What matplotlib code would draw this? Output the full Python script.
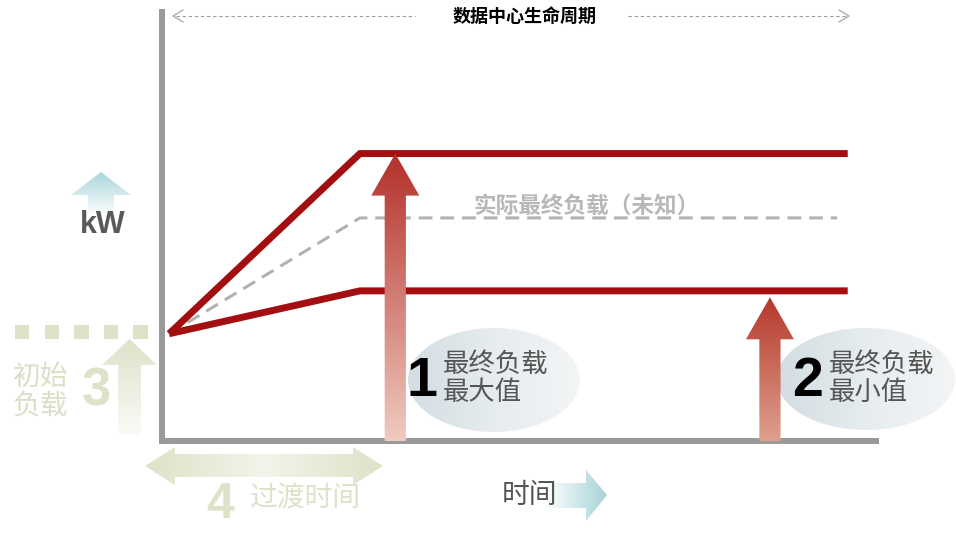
import numpy as np
import matplotlib
matplotlib.use("Agg")
import matplotlib.pyplot as plt
from matplotlib.patches import Polygon, Ellipse, Rectangle
from matplotlib.colors import LinearSegmentedColormap

plt.rcParams['font.family'] = ['Noto Sans CJK SC', 'DejaVu Sans']

# 负载曲线数据（时间单位任意，负载为相对值）
time_pts = [0, 2.7, 9.6]
max_load = [25, 67, 67]
min_load = [25, 35, 35]
actual_time = [0, 2.7, 9.45]
actual_load = [25, 52, 52]

# 两个标注箭头：位置与箭头顶端对应的负载
arrow_x = [3.2, 8.5]
arrow_tip = [max_load[-1], min_load[-1] - 1.5]
arrow_colors = [('#f0cbc0', '#b3302a'), ('#dfa08e', '#b5382b')]
arrow_nums = ['1', '2']
arrow_text = ['最终负载\n最大值', '最终负载\n最小值']

title = '数据中心生命周期'
actual_label = '实际最终负载（未知）'

RED = '#a30f10'
OLIVE = '#dfe1c9'


def gradient_fill(a, verts, extent, stops, horizontal=False, zorder=2):
    poly = Polygon(verts, closed=True, facecolor='none', edgecolor='none', zorder=zorder)
    a.add_patch(poly)
    cmap = LinearSegmentedColormap.from_list('g', stops)
    g = np.linspace(0, 1, 256)
    arr = g[np.newaxis, :] if horizontal else g[:, np.newaxis]
    im = a.imshow(arr, cmap=cmap, extent=extent, origin='lower', aspect='auto',
                  interpolation='bilinear', zorder=zorder)
    im.set_clip_path(poly)


fig = plt.figure(figsize=(9.56, 5.33), dpi=100)

# 装饰层，像素坐标
deco = fig.add_axes([0, 0, 1, 1])
deco.axis('off')

# 主图
ax = fig.add_axes([162 / 956, (533 - 441) / 533, (876 - 162) / 956, (441 - 12) / 533])
ax.patch.set_alpha(0)
for s in ['top', 'right']:
    ax.spines[s].set_visible(False)
for s in ['left', 'bottom']:
    ax.spines[s].set_linewidth(4.3)
    ax.spines[s].set_color('#999999')
    ax.spines[s].set_capstyle('projecting')
ax.set_xticks([])
ax.set_yticks([])

ax.plot(time_pts, max_load, color=RED, lw=5, solid_capstyle='butt', solid_joinstyle='miter', zorder=3)
ax.plot(time_pts, min_load, color=RED, lw=5, solid_capstyle='butt', solid_joinstyle='miter', zorder=3)
ax.plot(actual_time, actual_load, color='#b2b2b2', lw=2.2, dashes=(4.5, 2.6), zorder=2)

# 渐变箭头
sw, hw, hl = 0.15, 0.34, 9.8
for x, tip, (c0, c1) in zip(arrow_x, arrow_tip, arrow_colors):
    verts = [(x - sw, 0), (x - sw, tip - hl), (x - hw, tip - hl), (x, tip),
             (x + hw, tip - hl), (x + sw, tip - hl), (x + sw, 0)]
    gradient_fill(ax, verts, (x - hw, x + hw, 0, tip), [c0, c1], zorder=4)

ax.set_xlim(-0.1, 10)
ax.set_ylim(0, 100)

# 椭圆标签
for (cx, cy, w, h), num, txt, nx in zip([(494, 380, 172, 104), (866, 379, 178, 102)],
                                         arrow_nums, arrow_text, [422, 808]):
    e = Ellipse((cx, cy), w, h, facecolor='none', edgecolor='none')
    deco.add_patch(e)
    cmap = LinearSegmentedColormap.from_list('e', ['#d3dde2', '#e6ecef', '#f3f5f6'])
    g = np.linspace(0, 1, 256)
    im = deco.imshow(g[np.newaxis, :], cmap=cmap, extent=(cx - w / 2, cx + w / 2, cy - h / 2, cy + h / 2),
                     origin='lower', aspect='auto', interpolation='bilinear', zorder=1)
    im.set_clip_path(e)
    deco.text(nx, 382, num, fontsize=40, fontweight='bold', family='Liberation Sans',
              ha='center', va='center', color='black', zorder=3)
    l1, l2 = txt.split('\n')
    deco.text(nx + 21, 364, l1, fontsize=19, color='#555555', ha='left', va='center', zorder=3)
    deco.text(nx + 21, 392, l2, fontsize=19, color='#555555', ha='left', va='center', zorder=3)

# 生命周期标题
deco.text(525, 16, title, fontsize=13, fontweight='bold', ha='center', va='center', color='black')
deco.plot([176, 415], [16, 16], color='#9a9a9a', lw=0.8, dashes=(3, 2.5))
deco.plot([628, 847], [16, 16], color='#9a9a9a', lw=0.8, dashes=(3, 2.5))
deco.plot([183, 173, 183], [10, 16, 22], color='#9a9a9a', lw=0.8)
deco.plot([839, 849, 839], [10, 16, 22], color='#9a9a9a', lw=0.8)

deco.text(587, 206, actual_label, fontsize=16.3, fontweight='bold', color='#b8b8b8',
          ha='center', va='center')

# kW 箭头
gradient_fill(deco, [(88, 216), (88, 195), (71, 195), (101, 172), (131, 195), (114, 195), (114, 216)],
              (71, 131, 216, 172), ['#ffffff', '#a9d6db'], zorder=1)
deco.text(103, 225, 'kW', fontsize=22, fontweight='bold', family='Liberation Sans',
          color='#595959', ha='center', va='center', zorder=3)

# 时间箭头
gradient_fill(deco, [(545, 483), (586, 483), (586, 470), (607, 495), (586, 521), (586, 508), (545, 508)],
              (545, 607, 470, 521), ['#ffffff', '#a6d3d8'], horizontal=True, zorder=1)
deco.text(530, 495, '时间', fontsize=20, color='#555555', ha='center', va='center', zorder=3)

# 初始负载
for sx in np.arange(15, 148, 29.6):
    deco.add_patch(Rectangle((sx, 324.5), 14.5, 14.5, facecolor=OLIVE, edgecolor='none'))
gradient_fill(deco, [(118, 435), (118, 365), (102, 365), (129.5, 339), (157, 365), (141, 365), (141, 435)],
              (102, 157, 435, 339), ['#fbfbf7', OLIVE], zorder=1)
deco.text(96, 392, '3', fontsize=38, fontweight='bold', family='Liberation Sans',
          color=OLIVE, ha='center', va='center')
deco.text(40, 377, '初始', fontsize=20, color='#dcdfc8', ha='center', va='center')
deco.text(40, 405, '负载', fontsize=20, color='#dcdfc8', ha='center', va='center')

# 过渡时间
gradient_fill(deco, [(145, 466), (175, 447), (175, 454), (353, 454), (353, 447), (383, 466),
                     (353, 485), (353, 477), (175, 477), (175, 485)],
              (145, 383, 447, 485), ['#dfe1c8', '#f3f4ea', '#dfe1c8'], horizontal=True, zorder=1)
deco.text(220, 505, '4', fontsize=36, fontweight='bold', family='Liberation Sans',
          color=OLIVE, ha='center', va='center')
deco.text(305, 499, '过渡时间', fontsize=20, color=OLIVE, ha='center', va='center')

deco.set_xlim(0, 956)
deco.set_ylim(533, 0)

fig.savefig('out.png', dpi=100)
